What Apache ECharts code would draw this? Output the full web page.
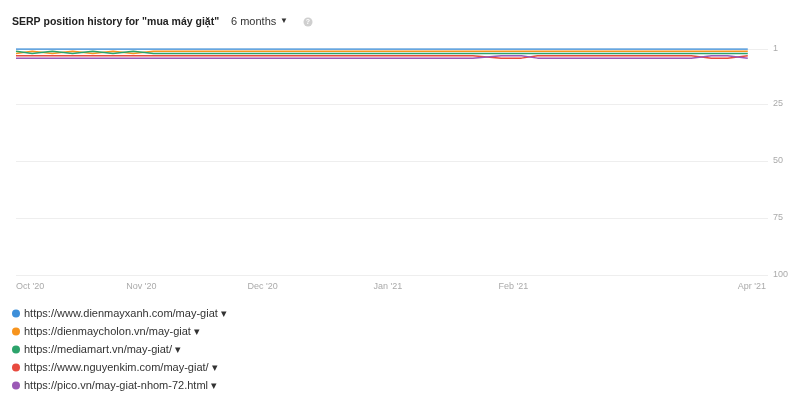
<!DOCTYPE html>
<html>
<head>
<meta charset="utf-8">
<script src="https://cdn.jsdelivr.net/npm/echarts@6/dist/echarts.min.js"></script>
<style>
  html, body { margin: 0; padding: 0; background: #fff; }
  #chart { width: 800px; height: 404px; }
</style>
</head>
<body>
<div id="chart"></div>
<script>
// sample dates (shared by all series)
const dates = ['2020-10-01','2020-10-05','2020-10-10','2020-10-15','2020-10-20','2020-10-25','2020-10-30','2020-11-04',
  '2021-01-22','2021-01-29','2021-02-03','2021-02-07','2021-03-17','2021-03-22','2021-03-26','2021-03-31'];

const names = [
  'https://www.dienmayxanh.com/may-giat',
  'https://dienmaycholon.vn/may-giat',
  'https://mediamart.vn/may-giat/',
  'https://www.nguyenkim.com/may-giat/',
  'https://pico.vn/may-giat-nhom-72.html'
];
const colors = ['#3d8fd9', '#f7941d', '#2ca36b', '#e84a3f', '#9b59b6'];

// SERP positions
const dienmayxanh  = [1,1,1,1,1,1,1,1,1,1,1,1,1,1,1,1];
const dienmaycholon = [3,2,3,2,3,2,3,2,2,2,2,2,2,2,2,2];
const mediamart    = [2,3,2,3,2,3,2,3,3,3,3,3,3,3,3,3];
const nguyenkim    = [4,4,4,4,4,4,4,4,4,5,5,4,4,5,5,4];
const pico         = [5,5,5,5,5,5,5,5,5,4,4,5,5,4,4,5];
const ranks = [dienmayxanh, dienmaycholon, mediamart, nguyenkim, pico];

// x-axis ticks
const tickDates = ['2020-10-01','2020-11-01','2020-12-01','2021-01-01','2021-02-01','2021-04-01'];
const tickLabels = ["Oct '20", "Nov '20", "Dec '20", "Jan '21", "Feb '21", "Apr '21"];
const yTicks = [1, 25, 50, 75, 100];

const ts = d => new Date(d + 'T00:00:00Z').getTime();
const tickTs = tickDates.map(ts);
const font = 'Helvetica, Arial, sans-serif';

var myChart = echarts.init(document.getElementById('chart'));
var option = {
  animation: false,
  graphic: [
    { type: 'text', x: 12, y: 22, style: { text: 'SERP position history for "mua máy giặt"', fill: '#222', fontSize: 10.5, fontWeight: 'bold', fontFamily: font, verticalAlign: 'middle' } },
    { type: 'text', x: 231, y: 22, style: { text: '6 months', fill: '#333', fontSize: 11, fontFamily: font, verticalAlign: 'middle' } },
    { type: 'text', x: 280, y: 21, style: { text: '▼', fill: '#333', fontSize: 8, fontFamily: font, verticalAlign: 'middle' } },
    { type: 'circle', shape: { cx: 308, cy: 22, r: 4.5 }, style: { fill: '#cfcfcf' } },
    { type: 'text', x: 308, y: 22, style: { text: '?', fill: '#fff', fontSize: 7, fontWeight: 'bold', align: 'center', verticalAlign: 'middle' } }
  ],
  legend: {
    orient: 'vertical',
    left: 7,
    top: 303,
    icon: 'circle',
    itemWidth: 8,
    itemHeight: 8,
    itemGap: 7,
    selectedMode: false,
    textStyle: { fontSize: 11, color: '#333', fontFamily: font, padding: [0, 0, 0, -1] },
    formatter: n => n + ' ▾',
    data: names
  },
  grid: { left: 16, right: 32, top: 49, bottom: 129 },
  xAxis: {
    type: 'value',
    min: ts('2020-10-01'),
    max: ts('2021-04-05'),
    axisLine: { show: false },
    axisTick: { show: false },
    splitLine: { show: false },
    axisLabel: {
      customValues: tickTs,
      color: '#aaa',
      fontSize: 9,
      margin: 7,
      alignMinLabel: 'left',
      formatter: v => {
        const i = tickTs.indexOf(v);
        return i >= 0 ? tickLabels[i] : '';
      }
    }
  },
  yAxis: {
    type: 'value',
    position: 'right',
    inverse: true,
    min: 1,
    max: 100,
    axisLine: { show: false },
    axisTick: { show: false, customValues: yTicks },
    axisLabel: { customValues: yTicks, color: '#aaa', fontSize: 9, margin: 5 },
    splitLine: { show: true, lineStyle: { color: '#eeeeee', width: 1 } }
  },
  series: names.map((n, i) => ({
    name: n,
    type: 'line',
    showSymbol: false,
    symbol: 'circle',
    color: colors[i],
    lineStyle: { width: 1.5, color: colors[i] },
    data: dates.map((d, j) => [ts(d), ranks[i][j]])
  }))
};
option && myChart.setOption(option);
</script>
</body>
</html>
